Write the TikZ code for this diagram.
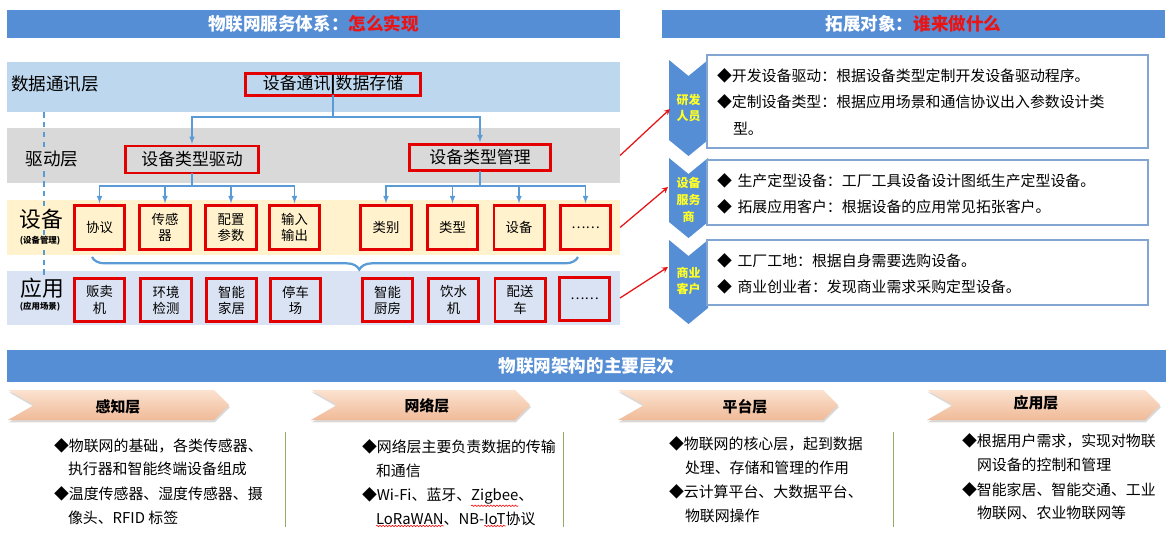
\documentclass[tikz,border=0pt]{standalone}
\usepackage{fontspec}
\setmainfont{Noto Sans CJK SC}
\usepackage{tikz}
\usetikzlibrary{arrows,decorations.pathreplacing,decorations.pathmorphing,shadows}
\definecolor{TitleBlue}{RGB}{85,142,213}
\definecolor{TitleRed}{RGB}{235,20,20}
\definecolor{DataBand}{RGB}{189,215,238}
\definecolor{DriveBand}{RGB}{217,217,217}
\definecolor{DeviceBand}{RGB}{255,242,204}
\definecolor{AppBand}{RGB}{218,227,243}
\definecolor{BoxRed}{RGB}{226,0,0}
\definecolor{TreeBlue}{RGB}{91,155,213}
\definecolor{PointerRed}{RGB}{230,20,20}
\definecolor{ChevBlue}{RGB}{85,142,213}
\definecolor{ChevText}{RGB}{255,255,40}
\definecolor{InfoEdge}{RGB}{130,165,210}
\definecolor{BannerLight}{RGB}{251,226,208}
\definecolor{BannerDark}{RGB}{240,186,152}
\definecolor{DividerGreen}{RGB}{140,175,100}

\begin{document}
\begin{tikzpicture}[x=0.025cm, y=-0.025cm]
	\tikzstyle{every node}=[inner sep=0pt, outer sep=0pt];
	\tikzstyle{titlebar}=[fill=TitleBlue, minimum height=19.9pt, text=white, font=\fontsize{12.5}{14}\selectfont\bfseries];
	\tikzstyle{band}=[minimum width=436pt];
	\tikzstyle{layerlabel}=[font=\fontsize{12.5}{14}\selectfont, inner sep=1pt];
	\tikzstyle{sublabel}=[font=\fontsize{6}{7}\selectfont\bfseries, inner sep=1pt];
	\tikzstyle{redbox}=[draw=BoxRed, line width=2pt, align=center, font=\fontsize{12}{14}\selectfont];
	\tikzstyle{cell}=[redbox, minimum width=35.7pt, minimum height=31.4pt, font=\fontsize{9.5}{11.5}\selectfont];
	\tikzstyle{tree}=[draw=TreeBlue, line width=0.8pt, -latex, shorten >=1.5pt];
	\tikzstyle{groupbrace}=[draw=TreeBlue, line width=1.6pt, decorate, decoration={brace, mirror, amplitude=9pt, aspect=0.55}];
	\tikzstyle{pointer}=[draw=PointerRed, line width=0.9pt, -stealth];
	\tikzstyle{chevtext}=[text=ChevText, align=center, font=\fontsize{8.5}{12}\selectfont\bfseries];
	\tikzstyle{infobox}=[draw=InfoEdge, line width=1pt, fill=white, minimum width=313.7pt];
	\tikzstyle{infoline}=[anchor=west, font=\fontsize{10.6}{12}\selectfont];
	\tikzstyle{banner}=[top color=BannerLight, bottom color=BannerDark, drop shadow={opacity=0.3, shadow xshift=0.6pt, shadow yshift=-1.6pt}];
	\tikzstyle{bannertext}=[font=\fontsize{10.6}{12}\selectfont\bfseries];
	\tikzstyle{divider}=[draw=DividerGreen, line width=0.6pt];
	\tikzstyle{spell}=[draw=red, line width=0.4pt, decorate, decoration={snake, amplitude=0.5pt, segment length=2.2pt}];

	\useasboundingbox (0,0) rectangle (1176,544);

	\node [titlebar, minimum width=436pt] (howtitle) at (313.5,24) {物联网服务体系：\textcolor{TitleRed}{怎么实现}};
	\node [titlebar, minimum width=357.8pt] (whotitle) at (913.5,24) {拓展对象：\textcolor{TitleRed}{谁来做什么}};

	\node [band, fill=DataBand, minimum height=35.6pt] (databand) at (313.5,87) {};
	\node [band, fill=DriveBand, minimum height=39.1pt] (drvband) at (313.5,155.5) {};
	\node [band, fill=DeviceBand, minimum height=39.1pt] (devband) at (313.5,227.5) {};
	\node [band, fill=AppBand, minimum height=38.4pt] (appband) at (313.5,298) {};

	\coordinate (dashtop) at (44,112);
	\coordinate (dashbot) at (44,280);
	\draw [TreeBlue, line width=1.3pt, dash pattern=on 4pt off 3pt] (dashtop) -- (dashbot);

	\node [layerlabel] (datalabel) at (55,84) {数据通讯层};
	\node [layerlabel, fill=DriveBand] (drvlabel) at (52,159) {驱动层};
	\node [layerlabel, fill=DeviceBand, font=\fontsize{15.5}{17}\selectfont] (devlabel) at (41,219) {设备};
	\node [sublabel, fill=DeviceBand] (devsub) at (40,241) {(设备管理)};
	\node [layerlabel, fill=AppBand, font=\fontsize{15.5}{17}\selectfont] (applabel) at (42,288) {应用};
	\node [sublabel, fill=AppBand] (appsub) at (40,307) {(应用场景)};

	\node [redbox, minimum width=123.9pt, minimum height=15.1pt] (store) at (333,84.5) {设备通讯\textbf{|}数据存储};
	\node [redbox, minimum width=94.7pt, minimum height=19.3pt] (drvtype) at (192,159.5) {设备类型驱动};
	\node [redbox, minimum width=100.4pt, minimum height=18.6pt] (mgrtype) at (480,157.5) {设备类型管理};

	\node [cell] (proto) at (99.5,227.5) {协议};
	\node [cell] (sensor) at (165,227.5) {传感\\器};
	\node [cell] (config) at (231,227.5) {配置\\参数};
	\node [cell] (io) at (294.5,227.5) {输入\\输出};
	\node [cell] (category) at (386,227.5) {类别};
	\node [cell] (kind) at (452.5,227.5) {类型};
	\node [cell] (device) at (519,227.5) {设备};
	\node [cell] (devmore) at (585.5,227.5) {……};

	\node [cell, minimum height=30.7pt] (vending) at (99.5,300) {贩卖\\机};
	\node [cell, minimum height=30.7pt] (envmon) at (166,300) {环境\\检测};
	\node [cell, minimum height=30.7pt] (smarthome) at (231.5,300) {智能\\家居};
	\node [cell, minimum height=30.7pt] (parking) at (295.5,300) {停车\\场};
	\node [cell, minimum height=30.7pt] (kitchen) at (387.5,300) {智能\\厨房};
	\node [cell, minimum height=30.7pt] (water) at (453.5,300) {饮水\\机};
	\node [cell, minimum height=30.7pt] (delivery) at (520,300) {配送\\车};
	\node [cell, minimum height=30.7pt] (appmore) at (584.5,299) {……};

	\draw [tree] (store.south) -- (store.south |- 0,117) -| (drvtype.north);
	\draw [tree] (store.south) -- (store.south |- 0,117) -| (mgrtype.north);
	\draw [tree] (drvtype.south) -- (drvtype.south |- 0,186) -| (proto.north);
	\draw [tree] (drvtype.south) -- (drvtype.south |- 0,186) -| (sensor.north);
	\draw [tree] (drvtype.south) -- (drvtype.south |- 0,186) -| (config.north);
	\draw [tree] (drvtype.south) -- (drvtype.south |- 0,186) -| (io.north);
	\draw [tree] (mgrtype.south) -- (mgrtype.south |- 0,186) -| (category.north);
	\draw [tree] (mgrtype.south) -- (mgrtype.south |- 0,186) -| (kind.north);
	\draw [tree] (mgrtype.south) -- (mgrtype.south |- 0,186) -| (device.north);
	\draw [tree] (mgrtype.south) -- (mgrtype.south |- 0,186) -| (devmore.north);

	\draw [groupbrace] (92,257) -- (578,257);

	\fill [ChevBlue] (669,60) -- (688.5,76) -- (708,60) -- (708,140) -- (688.5,156) -- (669,140) -- cycle;
	\fill [ChevBlue] (669,158) -- (688.5,174) -- (708,158) -- (708,222) -- (688.5,238) -- (669,222) -- cycle;
	\fill [ChevBlue] (669,240) -- (688.5,256) -- (708,240) -- (708,308) -- (688.5,324) -- (669,308) -- cycle;
	\node [chevtext] (rd) at (688.5,108) {研发\\人员};
	\node [chevtext] (vendor) at (688.5,200) {设备\\服务\\商};
	\node [chevtext] (client) at (688.5,281) {商业\\客户};
	\coordinate (rdtip) at (670,109);
	\coordinate (vendortip) at (668,187);
	\coordinate (clienttip) at (668,267);

	\node [infobox, minimum height=66.2pt] (rdbox) at (927.5,101.5) {};
	\node [infobox, minimum height=46.2pt] (vendorbox) at (927.5,192.5) {};
	\node [infobox, minimum height=46.2pt] (clientbox) at (927.5,272.5) {};

	\node [infoline] (rdA) at (717,76) {◆开发设备驱动：根据设备类型定制开发设备驱动程序。};
	\node [infoline] (rdB) at (717,102) {◆定制设备类型：根据应用场景和通信协议出入参数设计类};
	\node [infoline] (rdC) at (733,129) {型。};
	\node [infoline] (vendorA) at (717,181) {◆\hspace{4pt}生产定型设备：工厂工具设备设计图纸生产定型设备。};
	\node [infoline] (vendorB) at (717,207) {◆\hspace{4pt}拓展应用客户：根据设备的应用常见拓张客户。};
	\node [infoline] (clientA) at (717,261) {◆\hspace{4pt}工厂工地：根据自身需要选购设备。};
	\node [infoline] (clientB) at (717,287) {◆\hspace{4pt}商业创业者：发现商业需求采购定型设备。};

	\draw [pointer] (drvband.east) -- (rdtip);
	\draw [pointer] (devband.east) -- (vendortip);
	\draw [pointer] (appband.east) -- (clienttip);

	\node [titlebar, minimum width=824.4pt, minimum height=22.8pt] (archtitle) at (586.5,366) {物联网架构的主要层次};

	\path [banner] (8,390) -- (214,390) -- (229,405) -- (214,420) -- (8,420) -- (34,405) -- cycle;
	\path [banner] (311,390) -- (515,390) -- (530,405) -- (515,420) -- (311,420) -- (337,405) -- cycle;
	\path [banner] (618,390) -- (823,390) -- (838,405) -- (823,420) -- (618,420) -- (644,405) -- cycle;
	\path [banner] (927,390) -- (1145,390) -- (1160,405) -- (1145,420) -- (927,420) -- (953,405) -- cycle;
	\node [bannertext] (sense) at (118,407) {感知层};
	\node [bannertext] (network) at (427,406) {网络层};
	\node [bannertext] (platform) at (745,407) {平台层};
	\node [bannertext] (application) at (1036,403) {应用层};

	\draw [divider] (285,432) -- (285,527);
	\draw [divider] (563,432) -- (563,527);
	\draw [divider] (893,432) -- (893,527);

	\node [infoline] (senseA) at (54,446) {◆物联网的基础，各类传感器、};
	\node [infoline] (senseB) at (68,469) {执行器和智能终端设备组成};
	\node [infoline] (senseC) at (54,494) {◆温度传感器、湿度传感器、摄};
	\node [infoline] (senseD) at (68,518) {像头、RFID 标签};

	\node [infoline] (netA) at (362,447) {◆网络层主要负责数据的传输};
	\node [infoline] (netB) at (376,471) {和通信};
	\node [infoline] (netC) at (362,495) {◆Wi-Fi、蓝牙、};
	\node [infoline, anchor=base west] (zigbee) at (netC.base east) {Zigbee};
	\node [infoline, anchor=base west] (netCend) at (zigbee.base east) {、};
	\node [infoline] (lora) at (376,519) {LoRaWAN};
	\node [infoline, anchor=base west] (nbpre) at (lora.base east) {、NB-};
	\node [infoline, anchor=base west] (iot) at (nbpre.base east) {IoT};
	\node [infoline, anchor=base west] (netDend) at (iot.base east) {协议};
	\draw [spell] ([yshift=-1pt]zigbee.south west) -- ([yshift=-1pt]zigbee.south east);
	\draw [spell] ([yshift=-1pt]lora.south west) -- ([yshift=-1pt]lora.south east);
	\draw [spell] ([yshift=-1pt]iot.south west) -- ([yshift=-1pt]iot.south east);

	\node [infoline] (platA) at (669,444) {◆物联网的核心层，起到数据};
	\node [infoline] (platB) at (685,468) {处理、存储和管理的作用};
	\node [infoline] (platC) at (669,492) {◆云计算平台、大数据平台、};
	\node [infoline] (platD) at (685,516) {物联网操作};

	\node [infoline] (useA) at (962,441) {◆根据用户需求，实现对物联};
	\node [infoline] (useB) at (977,465) {网设备的控制和管理};
	\node [infoline] (useC) at (962,490) {◆智能家居、智能交通、工业};
	\node [infoline] (useD) at (977,513) {物联网、农业物联网等};
\end{tikzpicture}
\end{document}
